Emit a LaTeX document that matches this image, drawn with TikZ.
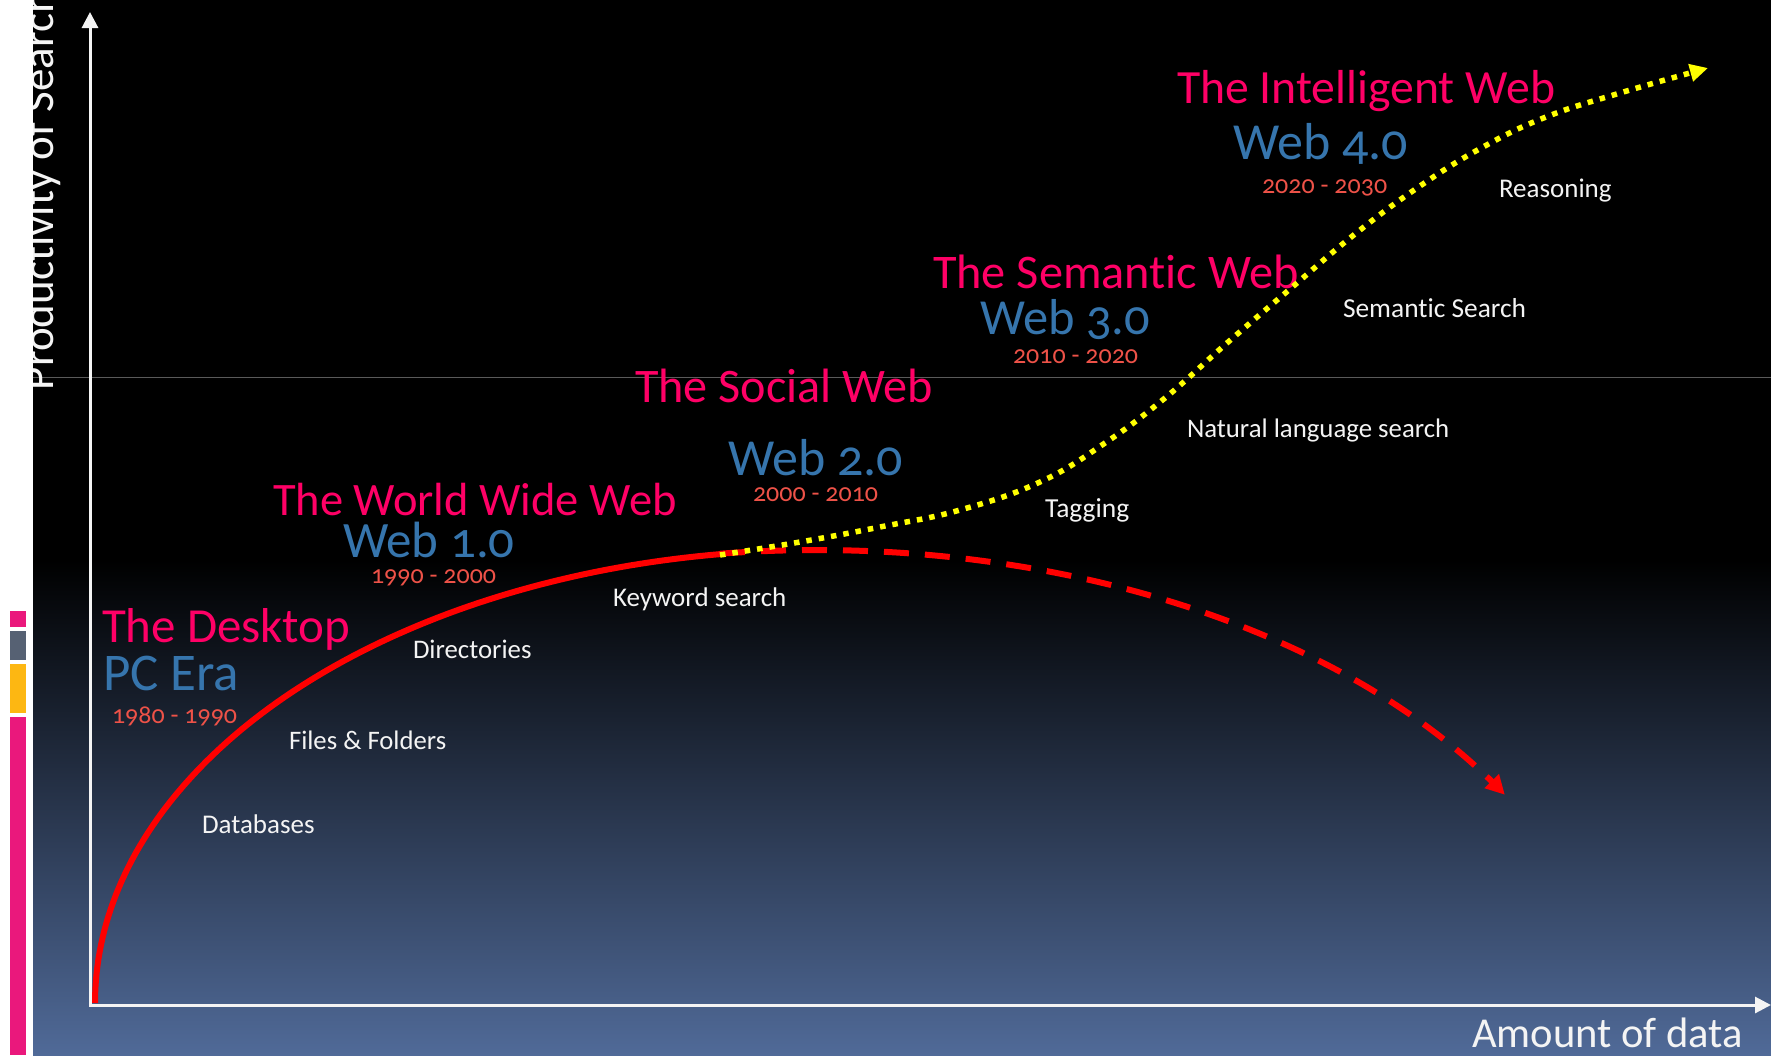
\documentclass[tikz,border=0pt]{standalone}
\usepackage{fontspec}
\setmainfont{Carlito}[Numbers=OldStyle,Ligatures=NoCommon]
\usetikzlibrary{arrows.meta}
\definecolor{pinkc}{RGB}{255,0,102}
\definecolor{bluec}{RGB}{54,117,173}
\definecolor{datec}{RGB}{238,82,72}
\definecolor{labc}{RGB}{244,244,244}
\definecolor{bgbot}{RGB}{80,106,152}
\definecolor{barpink}{RGB}{234,24,124}
\definecolor{bargray}{RGB}{86,97,115}
\definecolor{barorange}{RGB}{253,183,18}
\definecolor{linegray}{RGB}{90,90,90}
\definecolor{curvered}{RGB}{255,0,0}
\definecolor{curveyellow}{RGB}{255,255,0}
\newcommand{\fsz}[1]{\fontsize{#1}{#1}\selectfont}
\begin{document}
\begin{tikzpicture}[x=1pt,y=-1pt,
  lbl/.style={anchor=base west,inner sep=0pt,outer sep=0pt},
  era/.style={lbl,text=pinkc},
  ver/.style={lbl,text=bluec},
  yrs/.style={lbl,text=datec,font=\fsz{26}},
  tech/.style={lbl,text=labc},
  axisline/.style={draw=labc,line width=3pt,line join=miter},
  redline/.style={draw=curvered,line width=6pt},
  reddash/.style={draw=curvered,line width=6pt,dash pattern=on 25pt off 16pt},
  yeldot/.style={draw=curveyellow,line width=5.5pt,dash pattern=on 5.5pt off 7pt}
]
\useasboundingbox (0,0) rectangle (1771,1055);
% background
\fill[white] (0,0) rectangle (1771,1055);
\fill[black] (33,0) rectangle (1771,561);
\shade[top color=black,bottom color=bgbot] (33,560) rectangle (1771,1055);
% thin horizontal line
\draw[linegray,line width=1pt] (33,377) -- (1771,377);
% y label (clipped by white strip)
\node[lbl,rotate=90,text=labc,font=\fsz{45}] (ylab) at (53,390) {Productivity of Search};
% left strip
\fill[white] (0,0) rectangle (33,1055);
\fill[barpink] (10,611) rectangle (26,627);
\fill[bargray] (10,631) rectangle (26,660);
\fill[barorange] (10,664) rectangle (26,713);
\fill[barpink] (10,717) rectangle (26,1055);
% axes
\coordinate (ytip) at (90,12);
\coordinate (orig) at (90,1005);
\coordinate (xtip) at (1771,1005);
\draw[axisline,{Triangle[length=16pt,width=16pt]}-{Triangle[length=16pt,width=16pt]}] (ytip) -- (orig) -- (xtip);
% texts
\node[era,font=\fsz{49}] (desk) at (102,642) {The Desktop};
\node[ver,font=\fsz{53}] (pc) at (103,690) {PC Era};
\node[yrs] (y1) at (112,723) {1980 - 1990};
\node[era,font=\fsz{46.5}] (www) at (273,515) {The World Wide Web};
\node[ver,font=\fsz{51}] (w1) at (343,557) {Web 1.0};
\node[yrs] (y2) at (371,583) {1990 - 2000};
\node[era,font=\fsz{48.2}] (soc) at (635,402) {The Social Web};
\node[ver,font=\fsz{52}] (w2) at (728,475) {Web 2.0};
\node[yrs] (y3) at (753,501) {2000 - 2010};
\node[era,font=\fsz{48.3}] (sem) at (933,288) {The Semantic Web};
\node[ver,font=\fsz{50.5}] (w3) at (980,334) {Web 3.0};
\node[yrs] (y4) at (1013,363) {2010 - 2020};
\node[era,font=\fsz{47.7}] (intl) at (1177,103) {The Intelligent Web};
\node[ver,font=\fsz{52}] (w4) at (1233,159) {Web 4.0};
\node[yrs] (y5) at (1262,193) {2020 - 2030};
\node[tech,font=\fsz{27}] (t1) at (202,833) {Databases};
\node[tech,font=\fsz{26.7}] (t2) at (289,749) {Files \& Folders};
\node[tech,font=\fsz{26.8}] (t3) at (413,658) {Directories};
\node[tech,font=\fsz{27}] (t4) at (613,606) {Keyword search};
\node[tech,font=\fsz{27.5}] (t5) at (1045,517) {Tagging};
\node[tech,font=\fsz{26.8}] (t6) at (1187,437) {Natural language search};
\node[tech,font=\fsz{27.4}] (t7) at (1343,317) {Semantic Search};
\node[tech,font=\fsz{27}] (t8) at (1499,197) {Reasoning};
\node[lbl,text=labc,font=\fsz{42.6}] (xlab) at (1472,1047) {Amount of data};
% curves
\draw[redline,line cap=butt] plot[domain=180:262.3,samples=90,variable=\t] ({817+722*cos(\t)},{1003+453*sin(\t)});
\draw[reddash,-{Triangle[length=19pt,width=19pt]}] plot[domain=263.04:329.3,samples=90,variable=\t] ({817+800*cos(\t)},{1050+500*sin(\t)});
\draw[yeldot,-{Triangle[length=18pt,width=17pt]}] plot[smooth,tension=0.7] coordinates {(720,555) (800,542) (880,527) (960,510) (1040,482) (1105,443) (1165,398) (1227,343) (1290,289) (1355,234) (1420,186) (1483,147) (1546,117) (1620,93) (1708,68)};
\end{tikzpicture}
\end{document}
